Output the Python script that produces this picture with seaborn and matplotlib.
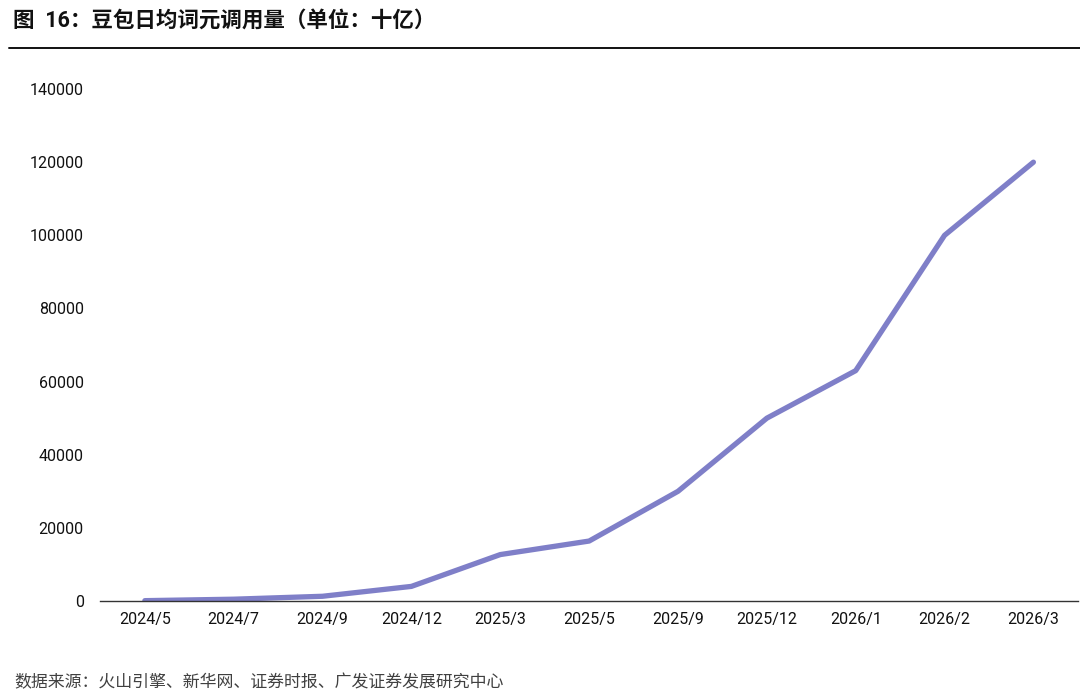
import matplotlib
matplotlib.use("Agg")
import matplotlib.pyplot as plt
import pandas as pd
import seaborn as sns

# data (unit: billion tokens / day)
months = ["2024/5", "2024/7", "2024/9", "2024/12", "2025/3", "2025/5",
          "2025/9", "2025/12", "2026/1", "2026/2", "2026/3"]
daily_tokens = [100, 500, 1300, 4000, 12700, 16400,
                30000, 50000, 63000, 100000, 120000]

df = pd.DataFrame({"month": months, "tokens": daily_tokens})

sns.set_style("white")
plt.rcParams["font.family"] = ["Roboto", "Noto Sans CJK SC", "DejaVu Sans"]

fig = plt.figure(figsize=(10.8, 7), dpi=100)
ax = fig.add_axes([0.093, 0.1414, 0.905, 0.7314])

sns.lineplot(data=df, x="month", y="tokens", ax=ax, sort=False,
             color="#7f7fc8", linewidth=3.8, solid_capstyle="round")

ax.set_xlim(-0.5, len(months) - 0.5)
ax.set_ylim(0, 140000)
ax.set_yticks(range(0, 140001, 20000))
ax.set_xlabel("")
ax.set_ylabel("")
ax.tick_params(axis="both", labelsize=11.5, length=0, colors="#111111", pad=8)
ax.tick_params(axis="y", pad=12)
for side in ["top", "right", "left"]:
    ax.spines[side].set_visible(False)
ax.spines["bottom"].set_color("#333333")
ax.spines["bottom"].set_linewidth(1.0)

# title and rule
fig.text(0.012, 0.971, "图  16：豆包日均词元调用量（单位：十亿）", fontsize=15.5,
         fontweight="bold", va="center", ha="left", color="#111111")
fig.add_artist(plt.Line2D([0.008, 1.0], [0.931, 0.931], color="#111111",
                          linewidth=1.4, transform=fig.transFigure))

# source
fig.text(0.013, 0.026, "数据来源：火山引擎、新华网、证券时报、广发证券发展研究中心",
         fontsize=12.2, va="center", ha="left", color="#404040")

fig.savefig("out.png", dpi=100)
